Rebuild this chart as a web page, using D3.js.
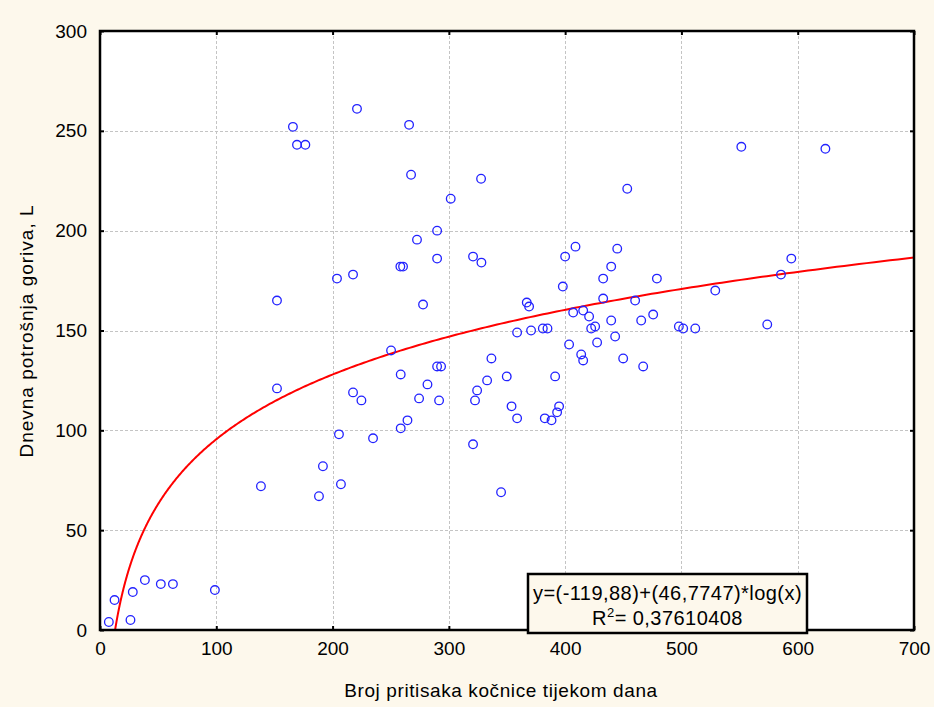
<!DOCTYPE html>
<html>
<head>
<meta charset="utf-8">
<script src="https://cdn.jsdelivr.net/npm/d3@7"></script>
<style>
  html, body { margin: 0; padding: 0; background: #fdf8ec; }
  svg { display: block; }
  text { font-family: "Liberation Sans", Arial, sans-serif; fill: #000; }
</style>
</head>
<body>
<svg id="chart" width="934" height="707"></svg>
<script>
// ---- data ----
const brakePresses = [7.6, 12.5, 26.2, 28.2, 38.6, 52.3, 62.7, 98.8, 138.4, 152.2, 152.2, 165.9, 169.4, 176.6,
  188.3, 191.7, 203.8, 205.5, 207.2, 217.6, 217.6, 221, 224.8, 234.8, 250.3, 258.3, 260.6, 258.6, 258.6, 264.4,
  265.8, 267.5, 272.6, 274.4, 277.8, 281.6, 289.9, 289.9, 289.9, 293.3, 291.6, 301.6, 320.8, 320.8, 322.5, 324.3,
  327.7, 328, 332.9, 336.6, 344.9, 349.8, 353.9, 358.7, 358.7, 367, 369, 370.7, 380.8, 384.8, 382.5, 388.3, 391.4,
  393.1, 394.8, 398, 400, 403.4, 406.9, 408.9, 413.8, 415.5, 415.5, 420.6, 422.4, 425.8, 427.5, 432.7, 432.7,
  439.6, 439.6, 443, 444.8, 449.9, 453.4, 460.2, 465.4, 467.1, 475.7, 478.9, 497.8, 501.5, 511.9, 529.1, 551.5,
  573.8, 585.6, 594.5, 623.8];
const fuelUse = [4, 15, 5, 19, 25, 23, 23, 20, 72, 165, 121, 252, 243, 243,
  67, 82, 176, 98, 73, 178, 119, 261, 115, 96, 140, 182, 182, 128, 101, 105,
  253, 228, 195.5, 116, 163, 123, 200, 186, 132, 132, 115, 216, 187, 93, 115, 120,
  226, 184, 125, 136, 69, 127, 112, 149, 106, 164, 162, 150, 151, 151, 106, 105, 127,
  109, 112, 172, 187, 143, 159, 192, 138, 160, 135, 157, 151, 152, 144, 176, 166,
  182, 155, 147, 191, 136, 221, 165, 155, 132, 158, 176, 152, 151, 151, 170, 242,
  153, 178, 186, 241];
const fitCoefficients = [-119.88, 46.7747]; // y = a + b*ln(x)
const xTicks = [0, 100, 200, 300, 400, 500, 600, 700];
const yTicks = [0, 50, 100, 150, 200, 250, 300];
const xTitle = "Broj pritisaka kočnice tijekom dana";
const yTitle = "Dnevna potrošnja goriva, L";
const equationLines = ["y=(-119,88)+(46,7747)*log(x)", "R2= 0,37610408"];

// ---- layout ----
const svg = d3.select("#chart");
const L = 100, R = 914, T = 31, B = 630;
const x = d3.scaleLinear().domain([0, 700]).range([L, R]);
const y = d3.scaleLinear().domain([0, 300]).range([B, T]);

svg.append("rect").attr("x", 0).attr("y", 0).attr("width", 934).attr("height", 707).attr("fill", "#fdf8ec");
svg.append("rect").attr("x", L).attr("y", T).attr("width", R - L).attr("height", B - T).attr("fill", "#ffffff");

// grid
const grid = svg.append("g").attr("stroke", "#c4c4c4").attr("stroke-width", 1).attr("stroke-dasharray", "3,2");
grid.selectAll(".gx").data(xTicks.slice(1, -1)).enter().append("line")
  .attr("x1", d => Math.round(x(d)) + 0.5).attr("x2", d => Math.round(x(d)) + 0.5).attr("y1", T).attr("y2", B);
grid.selectAll(".gy").data(yTicks.slice(1, -1)).enter().append("line")
  .attr("y1", d => Math.round(y(d)) + 0.5).attr("y2", d => Math.round(y(d)) + 0.5).attr("x1", L).attr("x2", R);

// clip
svg.append("clipPath").attr("id", "clip").append("rect").attr("x", L).attr("y", T).attr("width", R - L).attr("height", B - T);

// fit curve
const [a, b] = fitCoefficients;
const x0 = Math.exp(-a / b);
const curvePts = d3.range(0, 401).map(i => {
  const xv = x0 * Math.pow(700 / x0, i / 400);
  return [xv, a + b * Math.log(xv)];
});
svg.append("path").attr("clip-path", "url(#clip)")
  .attr("d", d3.line().x(d => x(d[0])).y(d => y(d[1]))(curvePts))
  .attr("fill", "none").attr("stroke", "#ff0000").attr("stroke-width", 2);

// points
svg.append("g").selectAll("circle").data(brakePresses.map((v, i) => [v, fuelUse[i]])).enter().append("circle")
  .attr("cx", d => x(d[0])).attr("cy", d => y(d[1])).attr("r", 4.3)
  .attr("fill", "none").attr("stroke", "#2222ff").attr("stroke-width", 1.3);

// axes
const axB = svg.append("g").attr("transform", `translate(0,${B})`)
  .call(d3.axisBottom(x).tickValues(xTicks).tickSizeInner(-4).tickSizeOuter(0).tickPadding(12));
const axL = svg.append("g").attr("transform", `translate(${L},0)`)
  .call(d3.axisLeft(y).tickValues(yTicks).tickSizeInner(-4).tickSizeOuter(0).tickPadding(13));
const axT = svg.append("g").attr("transform", `translate(0,${T})`)
  .call(d3.axisTop(x).tickValues(xTicks).tickSizeInner(-4).tickSizeOuter(0).tickFormat(""));
const axR = svg.append("g").attr("transform", `translate(${R},0)`)
  .call(d3.axisRight(y).tickValues(yTicks).tickSizeInner(-4).tickSizeOuter(0).tickFormat(""));
[axB, axL, axT, axR].forEach(g => {
  g.select(".domain").remove();
  g.selectAll(".tick line").attr("stroke", "#000").attr("stroke-width", 2);
  g.selectAll(".tick text").attr("font-size", 19).attr("font-family", "Liberation Sans, Arial, sans-serif").attr("fill", "#000");
});
svg.append("rect").attr("x", L).attr("y", T).attr("width", R - L).attr("height", B - T)
  .attr("fill", "none").attr("stroke", "#000").attr("stroke-width", 2.5);

// titles
svg.append("text").attr("x", 501).attr("y", 697).attr("text-anchor", "middle")
  .attr("font-size", 19).attr("letter-spacing", 0.6).text(xTitle);
svg.append("text").attr("transform", "translate(33,331) rotate(-90)").attr("text-anchor", "middle")
  .attr("font-size", 19).attr("letter-spacing", 1.0).text(yTitle);

// equation box
const bx = 528, by = 574, bw = 279, bh = 59;
svg.append("rect").attr("x", bx).attr("y", by).attr("width", bw).attr("height", bh)
  .attr("fill", "#fdf8ec").attr("stroke", "#000").attr("stroke-width", 2.5);
svg.append("text").attr("x", bx + bw / 2).attr("y", 600).attr("text-anchor", "middle")
  .attr("font-size", 20).attr("letter-spacing", 0.45).text(equationLines[0]);
const t2 = svg.append("text").attr("x", bx + bw / 2).attr("y", 625).attr("text-anchor", "middle")
  .attr("font-size", 20).attr("letter-spacing", 0.45);
t2.append("tspan").text(equationLines[1].slice(0, 1));
t2.append("tspan").attr("dy", -8).attr("font-size", 13).text(equationLines[1].slice(1, 2));
t2.append("tspan").attr("dy", 8).text(equationLines[1].slice(2));
</script>
</body>
</html>
